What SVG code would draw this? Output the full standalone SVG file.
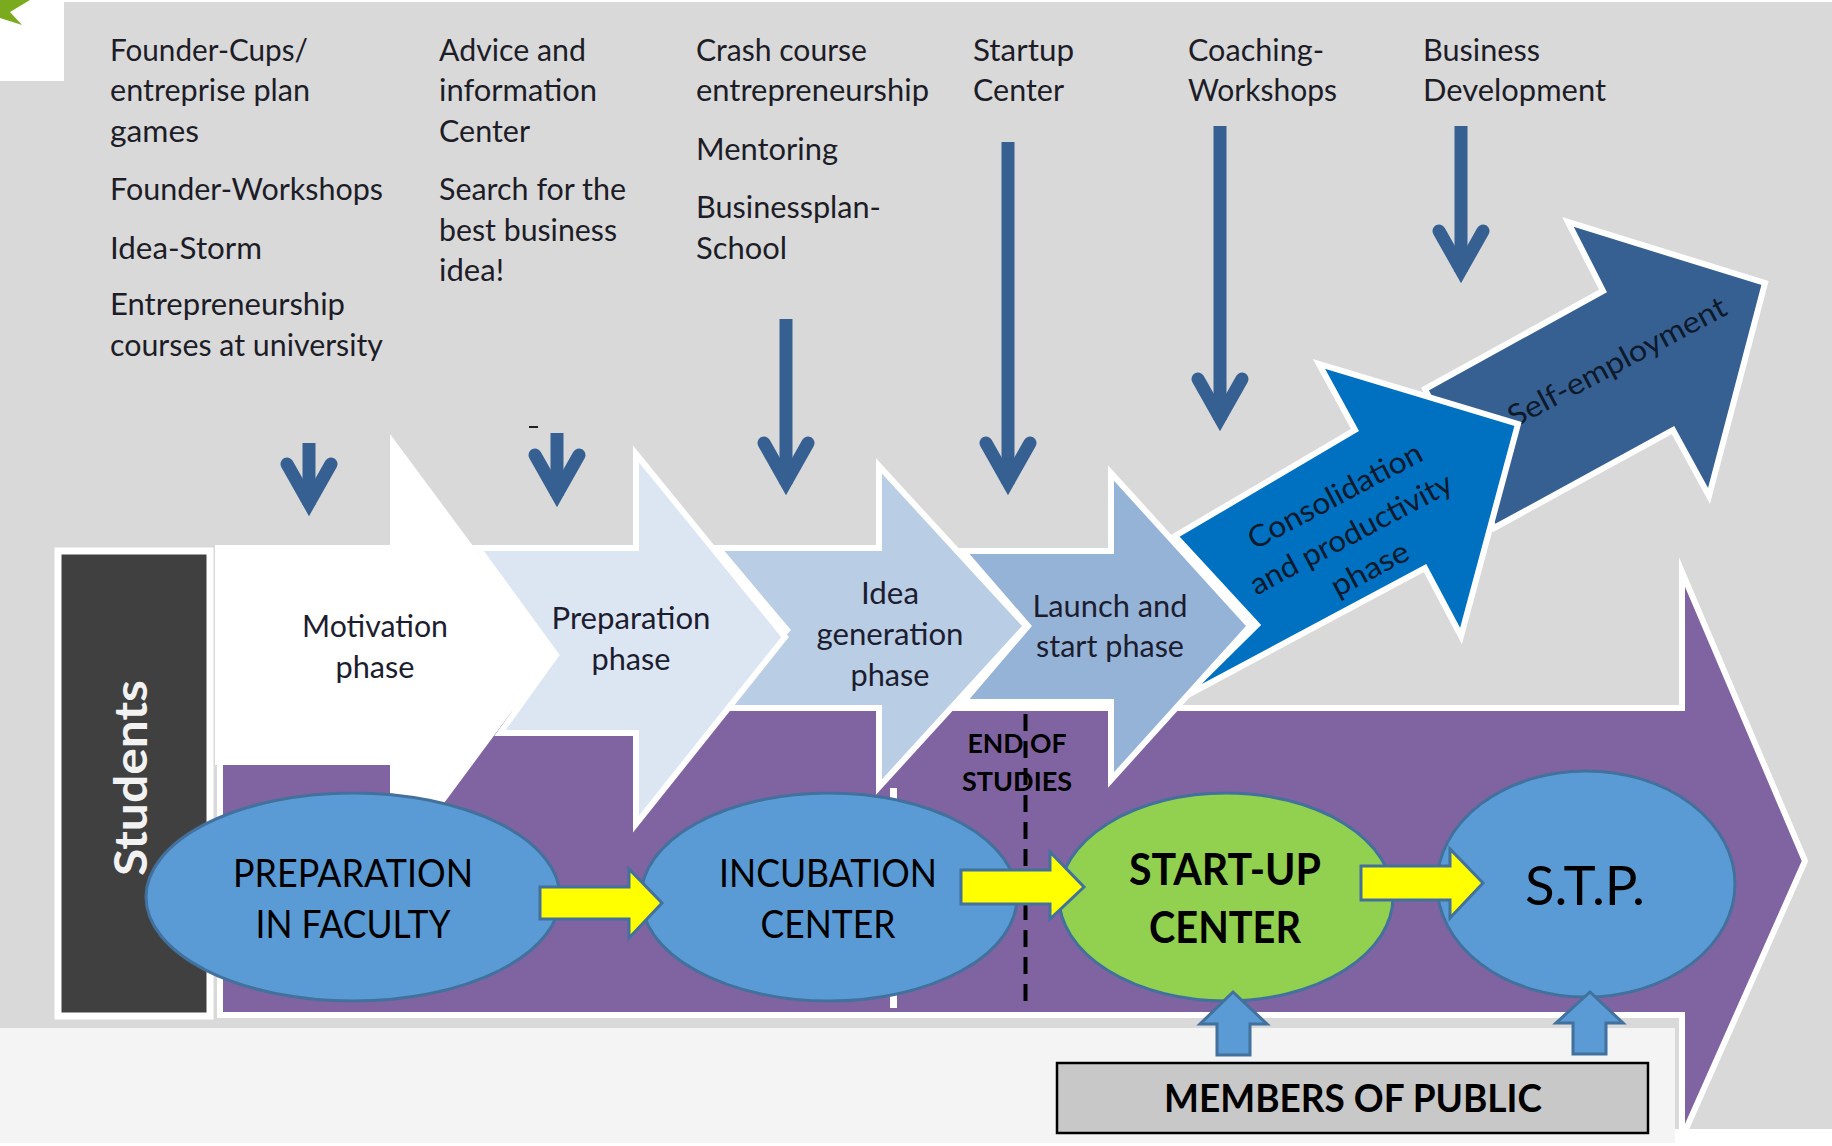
<svg xmlns="http://www.w3.org/2000/svg" width="1832" height="1146" viewBox="0 0 1832 1146">
<style>
text{font-family:Lato,"Open Sans","Liberation Sans",sans-serif}
.top{font-size:30px;fill:#1d1d28}
.ph{font-size:30px;fill:#1d1d30;text-anchor:middle}
.rot{font-size:30px;fill:#0d1a2c;text-anchor:middle}
.big{font-size:39px;fill:#000;text-anchor:middle}
.bold{font-weight:700}
.pa{stroke:#fff;stroke-width:6;stroke-linejoin:miter;stroke-miterlimit:12}
.el{stroke:#41719c;stroke-width:3}
.down{fill:none;stroke:#376092;stroke-width:13;stroke-linejoin:miter}
.head{stroke-linecap:round}
.yel{fill:#ffff00;stroke:#41719c;stroke-width:3}
.up{fill:#5b9bd5;stroke:#41719c;stroke-width:3}
</style>
<rect width="1832" height="1146" fill="#fff"/>
<rect x="0" y="2" width="1832" height="1127" fill="#d9d9d9"/>
<rect x="0" y="1028" width="1675" height="115" fill="#f4f4f4"/>
<rect x="0" y="0" width="64" height="81" fill="#fff"/>
<polygon points="0,0 30,0 10,12 22,25 0,18" fill="#7aab1e"/>

<g id="top-labels" class="top">
<g id="col1">
<text x="110" y="61" textLength="198" lengthAdjust="spacingAndGlyphs">Founder-Cups/</text>
<text x="110" y="101" textLength="200" lengthAdjust="spacingAndGlyphs">entreprise plan</text>
<text x="110" y="142" textLength="89" lengthAdjust="spacingAndGlyphs">games</text>
<text x="110" y="200" textLength="273" lengthAdjust="spacingAndGlyphs">Founder-Workshops</text>
<text x="110" y="259" textLength="152" lengthAdjust="spacingAndGlyphs">Idea-Storm</text>
<text x="110" y="315" textLength="235" lengthAdjust="spacingAndGlyphs">Entrepreneurship</text>
<text x="110" y="356" textLength="273" lengthAdjust="spacingAndGlyphs">courses at university</text>
</g>
<g id="col2">
<text x="439" y="61" textLength="147" lengthAdjust="spacingAndGlyphs">Advice and</text>
<text x="439" y="101" textLength="158" lengthAdjust="spacingAndGlyphs">information</text>
<text x="439" y="142" textLength="91" lengthAdjust="spacingAndGlyphs">Center</text>
<text x="439" y="200" textLength="187" lengthAdjust="spacingAndGlyphs">Search for the</text>
<text x="439" y="241" textLength="178" lengthAdjust="spacingAndGlyphs">best business</text>
<text x="439" y="281" textLength="65" lengthAdjust="spacingAndGlyphs">idea!</text>
</g>
<g id="col3">
<text x="696" y="61" textLength="171" lengthAdjust="spacingAndGlyphs">Crash course</text>
<text x="696" y="101" textLength="233" lengthAdjust="spacingAndGlyphs">entrepreneurship</text>
<text x="696" y="160" textLength="142" lengthAdjust="spacingAndGlyphs">Mentoring</text>
<text x="696" y="218" textLength="185" lengthAdjust="spacingAndGlyphs">Businessplan-</text>
<text x="696" y="259" textLength="91" lengthAdjust="spacingAndGlyphs">School</text>
</g>
<g id="col4">
<text x="973" y="61" textLength="101" lengthAdjust="spacingAndGlyphs">Startup</text>
<text x="973" y="101" textLength="91" lengthAdjust="spacingAndGlyphs">Center</text>
</g>
<g id="col5">
<text x="1188" y="61" textLength="136" lengthAdjust="spacingAndGlyphs">Coaching-</text>
<text x="1188" y="101" textLength="149" lengthAdjust="spacingAndGlyphs">Workshops</text>
</g>
<g id="col6">
<text x="1423" y="61" textLength="117" lengthAdjust="spacingAndGlyphs">Business</text>
<text x="1423" y="101" textLength="183" lengthAdjust="spacingAndGlyphs">Development</text>
</g>
</g>

<g id="purple-arrow">
<polygon class="pa" points="220,708 1682,708 1682,572 1805,861 1682,1138 1682,1015 220,1015" fill="#8064a2"/>
</g>
<rect x="890" y="788" width="7" height="220" fill="#fff"/>

<g id="self-employment">
<polygon class="pa" points="1425,389 1603,291 1568,222 1765,283 1709,496 1673,430 1494,528" fill="#376092"/>
<text class="rot" transform="translate(1617,362) rotate(-28)" y="10" textLength="243" lengthAdjust="spacingAndGlyphs">Self-employment</text>
</g>
<g id="consolidation">
<polygon class="pa" points="1175,536 1355,430 1319,364 1518,424 1461,636 1425,568 1184,697 1257,625" fill="#0070c0"/>
<g class="rot">
<text class="rot" transform="translate(1335,496) rotate(-28)" y="10" textLength="193" lengthAdjust="spacingAndGlyphs">Consolidation</text>
<text class="rot" transform="translate(1351,534) rotate(-28)" y="10" textLength="225" lengthAdjust="spacingAndGlyphs">and productivity</text>
<text class="rot" transform="translate(1370,569) rotate(-28)" y="10" textLength="84" lengthAdjust="spacingAndGlyphs">phase</text>
</g>
</g>
<g id="launch">
<polygon class="pa" points="963,551 1111,551 1111,473 1250,626 1111,780 1111,702 963,702 1028,626" fill="#95b3d7"/>
<text class="ph" x="1110" y="617" textLength="155" lengthAdjust="spacingAndGlyphs">Launch and</text>
<text class="ph" x="1110" y="657" textLength="148" lengthAdjust="spacingAndGlyphs">start phase</text>
</g>
<g id="idea">
<polygon class="pa" points="718,548 879,548 879,466 1026,626 879,787 879,708 718,708 787,630" fill="#b9cde5"/>
<text class="ph" x="890" y="604" textLength="58" lengthAdjust="spacingAndGlyphs">Idea</text>
<text class="ph" x="890" y="645" textLength="147" lengthAdjust="spacingAndGlyphs">generation</text>
<text class="ph" x="890" y="686" textLength="79" lengthAdjust="spacingAndGlyphs">phase</text>
</g>
<g id="preparation">
<polygon class="pa" points="478,548 636,548 636,454 785,637 636,824 636,733 500,733 556,655" fill="#dce6f2"/>
<text class="ph" x="631" y="629" textLength="159" lengthAdjust="spacingAndGlyphs">Preparation</text>
<text class="ph" x="631" y="670" textLength="79" lengthAdjust="spacingAndGlyphs">phase</text>
</g>
<g id="motivation">
<polygon class="pa" points="218,548 393,548 393,443 550,655 393,867 393,762 218,762" fill="#fff"/>
<text class="ph" x="375" y="637" textLength="146" lengthAdjust="spacingAndGlyphs">Motivation</text>
<text class="ph" x="375" y="678" textLength="79" lengthAdjust="spacingAndGlyphs">phase</text>
</g>

<g id="students">
<rect x="58" y="551" width="152" height="465" fill="#404040" stroke="#fff" stroke-width="7"/>
<text transform="translate(147,778) rotate(-90)" text-anchor="middle" fill="#f2f2f2" font-size="46" font-weight="700" textLength="196" lengthAdjust="spacingAndGlyphs">Students</text>
</g>

<g id="end-of-studies">
<text class="bold" x="1017" y="753" text-anchor="middle" font-size="27" fill="#000" textLength="99" lengthAdjust="spacingAndGlyphs">END OF</text>
<text class="bold" x="1017" y="791" text-anchor="middle" font-size="27" fill="#000" textLength="110" lengthAdjust="spacingAndGlyphs">STUDIES</text>
</g>

<g id="preparation-in-faculty">
<ellipse class="el" cx="353" cy="897" rx="207" ry="104" fill="#5b9bd5"/>
<text class="big" x="353" y="887" textLength="240" lengthAdjust="spacingAndGlyphs">PREPARATION</text>
<text class="big" x="353" y="938" textLength="195" lengthAdjust="spacingAndGlyphs">IN FACULTY</text>
</g>
<g id="incubation-center">
<ellipse class="el" cx="829" cy="897" rx="188" ry="104" fill="#5b9bd5"/>
<text class="big" x="828" y="887" textLength="218" lengthAdjust="spacingAndGlyphs">INCUBATION</text>
<text class="big" x="828" y="938" textLength="135" lengthAdjust="spacingAndGlyphs">CENTER</text>
</g>
<g id="start-up-center">
<ellipse class="el" cx="1226" cy="897" rx="167" ry="104" fill="#92d050"/>
<text class="big bold" x="1225" y="885" style="font-size:43px" textLength="192" lengthAdjust="spacingAndGlyphs">START-UP</text>
<text class="big bold" x="1225" y="943" style="font-size:43px" textLength="152" lengthAdjust="spacingAndGlyphs">CENTER</text>
</g>
<g id="stp">
<ellipse class="el" cx="1586" cy="884" rx="149" ry="113" fill="#5b9bd5"/>
<text class="big" x="1585" y="905" style="font-size:54px" textLength="120" lengthAdjust="spacingAndGlyphs">S.T.P.</text>
</g>
<g id="members-of-public">
<rect x="1057" y="1063" width="591" height="70" fill="#c8c8c8" stroke="#000" stroke-width="2.5"/>
<text class="big bold" x="1353" y="1112" textLength="378" lengthAdjust="spacingAndGlyphs">MEMBERS OF PUBLIC</text>
</g>

<g id="connectors">
<path d="M1025.5,714V1001" fill="none" stroke="#000" stroke-width="4" stroke-dasharray="17 10"/>
<polygon class="yel" points="540,887 629,887 629,869 662,903 629,938 629,919 540,919"/>
<polygon class="yel" points="961,870 1050,870 1050,852 1084,887 1050,919 1050,904 961,904"/>
<polygon class="yel" points="1361,866 1450,866 1450,849 1483,883 1450,918 1450,900 1361,900"/>
<polygon class="up" points="1233,992 1267,1024 1250,1024 1250,1055 1217,1055 1217,1024 1200,1024"/>
<polygon class="up" points="1590,992 1623,1023 1606,1023 1606,1054 1573,1054 1573,1023 1556,1023"/>
<g class="down">
<path d="M309,443V505"/><path class="head" d="M287,464L309,503L331,464"/>
<path d="M557,433V496"/><path class="head" d="M535,455L557,494L579,455"/>
<path d="M786,319V484"/><path class="head" d="M764,443L786,482L808,443"/>
<path d="M1008,142V484"/><path class="head" d="M986,443L1008,482L1030,443"/>
<path d="M1220,126V420"/><path class="head" d="M1198,379L1220,418L1242,379"/>
<path d="M1461,126V272"/><path class="head" d="M1439,231L1461,270L1483,231"/>
</g>
<rect x="529" y="426" width="9" height="2" fill="#222"/>
</g>
</svg>
